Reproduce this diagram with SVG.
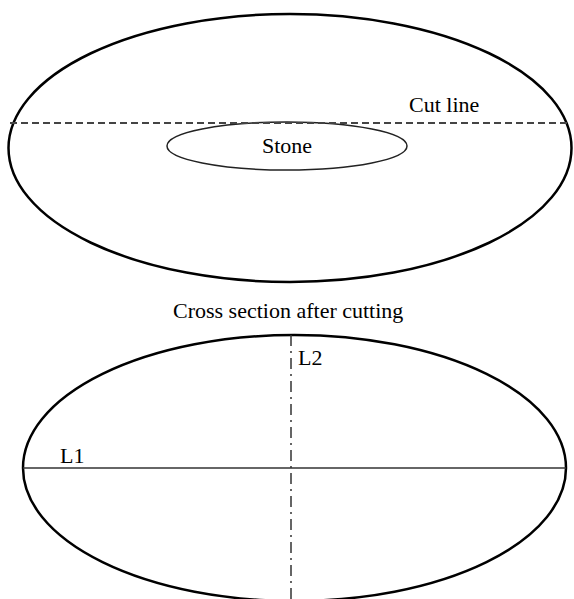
<svg xmlns="http://www.w3.org/2000/svg" width="574" height="599" viewBox="0 0 574 599">
<style>
.outline{fill:none;stroke:#000;stroke-width:2.5}
.stone{fill:none;stroke:#222;stroke-width:1.5}
.lbl{font-family:"Liberation Serif","Times New Roman",serif;font-size:22px;fill:#000}
.cut{stroke:#444;stroke-width:2;stroke-dasharray:7 4;fill:none}
.l1{stroke:#333;stroke-width:1.5;fill:none}
.l2{stroke:#333;stroke-width:1.5;stroke-dasharray:11 5 2 5;fill:none}
</style>
<rect width="574" height="599" fill="#fff"/>
<g id="top-section">
<ellipse class="outline" cx="290" cy="148" rx="281.5" ry="134"/>
</g>
<g id="stone">
<ellipse class="stone" cx="287" cy="146" rx="120" ry="24"/>
<text class="lbl" x="262" y="153">Stone</text>
</g>
<g id="cross-section">
<ellipse class="outline" cx="294.5" cy="468" rx="271.5" ry="133"/>
</g>
<g id="connectors">
<line class="cut" x1="10" y1="123" x2="570" y2="123"/>
<line class="l1" x1="23" y1="468" x2="566" y2="468"/>
<line class="l2" x1="291" y1="335" x2="291" y2="599"/>
</g>
<g id="labels">
<text class="lbl" x="409" y="112">Cut line</text>
<text class="lbl" x="173" y="318">Cross section after cutting</text>
<text class="lbl" x="60" y="463">L1</text>
<text class="lbl" x="298" y="365">L2</text>
</g>
</svg>
